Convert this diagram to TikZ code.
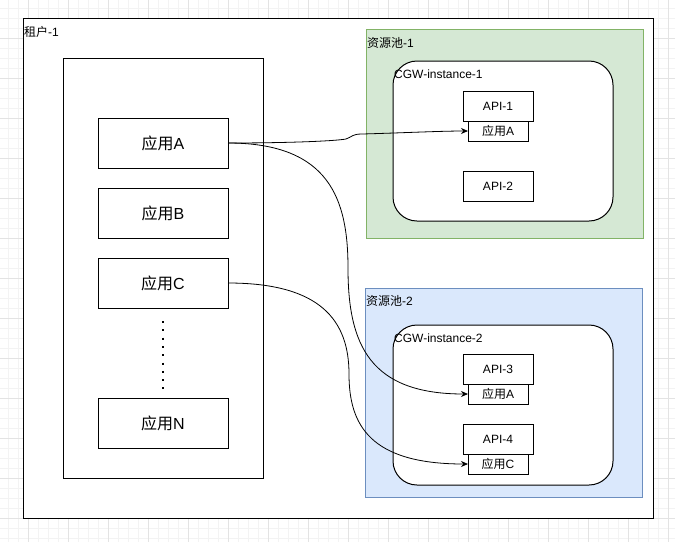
\documentclass[tikz,border=0pt]{standalone}
\usepackage{fontspec}
\setmainfont{Liberation Sans}
\newfontfamily\cjk{Noto Sans CJK SC}
\usetikzlibrary{arrows.meta}
\newcommand{\zh}[1]{{\cjk #1}}
\definecolor{gridminor}{HTML}{F3F3F3}
\definecolor{gridmajor}{HTML}{E3E3E3}
\definecolor{poolgreen}{HTML}{D5E8D4}
\definecolor{poolgreenline}{HTML}{82B366}
\definecolor{poolblue}{HTML}{DAE8FC}
\definecolor{poolblueline}{HTML}{6C8EBF}
\tikzset{
  box/.style={draw=black, line width=1pt, fill=white, inner sep=0pt, outer sep=0pt},
  appbox/.style={box, minimum width=130pt, minimum height=50pt, font=\fontsize{16}{18}\selectfont},
  apibox/.style={box, minimum width=70pt, minimum height=30pt, font=\fontsize{12}{14}\selectfont},
  tagbox/.style={box, minimum width=60pt, minimum height=20pt, font=\fontsize{12}{14}\selectfont},
  lbl/.style={anchor=west, inner sep=0pt, font=\fontsize{12}{14}\selectfont},
  link/.style={line width=0.8pt, -{Stealth[length=7pt,width=6pt]}},
}
\begin{document}
\begin{tikzpicture}[x=1pt,y=-1pt]
\useasboundingbox (0,0) rectangle (675,542);
\fill[white] (0,0) rectangle (675,542);
% background grid
\foreach \gx in {8,18,...,668} {\draw[gridminor, line width=0.6pt] (\gx,0) -- (\gx,542);}
\foreach \gy in {8,18,...,538} {\draw[gridminor, line width=0.6pt] (0,\gy) -- (675,\gy);}
\foreach \gx in {28,68,...,668} {\draw[gridmajor, line width=0.8pt] (\gx,0) -- (\gx,542);}
\foreach \gy in {38,78,...,538} {\draw[gridmajor, line width=0.8pt] (0,\gy) -- (675,\gy);}

% tenant
\draw[box] (23,18) rectangle (653,518);
\node[lbl] (tenantlbl) at (24,32) {\zh{租户}-1};
\draw[box] (63,58) rectangle (263,478);

\node[appbox] (appA) at (163,143) {\zh{应用}A};
\node[appbox] (appB) at (163,213) {\zh{应用}B};
\node[appbox] (appC) at (163,283) {\zh{应用}C};
\node[appbox] (appN) at (163,423) {\zh{应用}N};
\coordinate (dotsTop) at (163,321);
\coordinate (dotsBot) at (163,389);
\draw[line width=2pt, dash pattern=on 2pt off 6.3pt] (dotsTop) -- (dotsBot);

% pool 1
\draw[fill=poolgreen, draw=poolgreenline, line width=1pt] (366,29) rectangle (643,238);
\node[lbl] (pool1lbl) at (367,43) {\zh{资源池}-1};
\draw[box, rounded corners=24pt] (393,61) rectangle (613,221);
\node[lbl] (cgw1lbl) at (394,74) {CGW-instance-1};
\node[apibox] (api1) at (498,106) {API-1};
\node[tagbox] (tag1) at (498,131) {\zh{应用}A};
\node[apibox] (api2) at (498,186) {API-2};

% pool 2
\draw[fill=poolblue, draw=poolblueline, line width=1pt] (365,288) rectangle (642,497);
\node[lbl] (pool2lbl) at (366,301) {\zh{资源池}-2};
\draw[box, rounded corners=24pt] (393,325) rectangle (613,485);
\node[lbl] (cgw2lbl) at (394,338) {CGW-instance-2};
\node[apibox] (api3) at (498,369) {API-3};
\node[tagbox] (tag3) at (498,394) {\zh{应用}A};
\node[apibox] (api4) at (498,439) {API-4};
\node[tagbox] (tag4) at (498,464) {\zh{应用}C};

% links
\draw[link] (appA.east) .. controls (290,143) and (335,141) .. (346,139)
  .. controls (352,137) and (352,134) .. (362,134)
  .. controls (400,133) and (440,131) .. (tag1.west);
\draw[link] (appA.east) .. controls (330,143) and (348,200) .. (348,268)
  .. controls (348,345) and (370,394) .. (tag3.west);
\draw[link] (appC.east) .. controls (320,283) and (349,320) .. (349,374)
  .. controls (349,425) and (370,464) .. (tag4.west);
\end{tikzpicture}
\end{document}
